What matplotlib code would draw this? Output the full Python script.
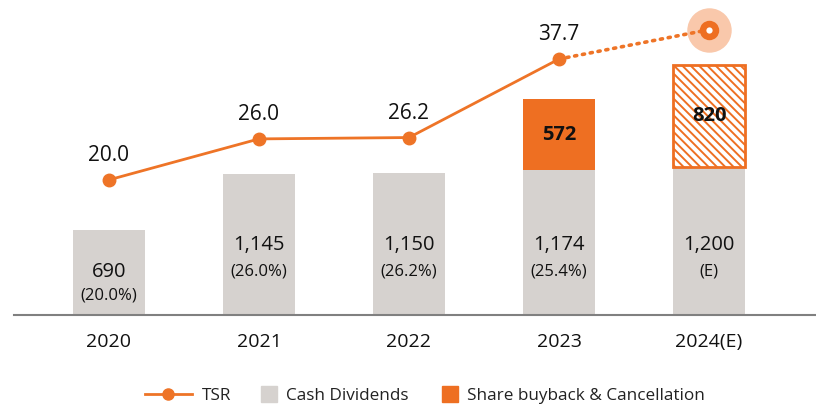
import numpy as np
import matplotlib.pyplot as plt
from matplotlib.lines import Line2D

plt.rcParams['font.family'] = ['Open Sans', 'DejaVu Sans']
plt.rcParams['hatch.linewidth'] = 1.4

years = ['2020', '2021', '2022', '2023', '2024(E)']
dividends = [690, 1145, 1150, 1174, 1200]
payout = ['(20.0%)', '(26.0%)', '(26.2%)', '(25.4%)', '(E)']
buyback = [0, 0, 0, 572, 820]
tsr = [20.0, 26.0, 26.2, 37.7, 42.0]
tsr_labels = ['20.0', '26.0', '26.2', '37.7', '']

ORANGE = '#EE6F22'
LINE = '#EE7427'
GREY = '#D6D2CF'
HALO = '#F9C8AB'
TXT = '#111111'

x = np.arange(len(years))

fig = plt.figure(figsize=(8.16, 4.07), dpi=100)
ax = fig.add_axes([14 / 816, 1 - 315 / 407, 802 / 816, 315 / 407])
ax.set_xlim(-0.633, 4.713)
ax.set_ylim(0, 2550)

w = 0.48
ax.bar(x, dividends, width=w, color=GREY, zorder=1)
# actual buyback in 2023, planned buyback in 2024 drawn hatched
ax.bar(x[3], buyback[3], bottom=dividends[3], width=w, color=ORANGE, zorder=1)
ax.bar(x[4], buyback[4], bottom=dividends[4], width=w, facecolor='white',
       edgecolor=ORANGE, hatch='\\\\\\\\', linewidth=2, zorder=1)

for i in x:
    y_num, y_pct = (348, 160) if i == 0 else (570, 350)
    ax.text(i, y_num, f'{dividends[i]:,}', ha='center', va='center',
            fontsize=14.5, color=TXT)
    ax.text(i, y_pct, payout[i], ha='center', va='center', fontsize=12, color=TXT)
    if buyback[i]:
        ax.text(i, dividends[i] + buyback[i] / 2, f'{buyback[i]}',
                ha='center', va='center', fontsize=14.5, fontweight='bold', color=TXT)

for s in ['top', 'right', 'left']:
    ax.spines[s].set_visible(False)
ax.spines['bottom'].set_color('#808080')
ax.spines['bottom'].set_linewidth(1.5)
ax.set_yticks([])
ax.set_xticks(x)
ax.set_xticklabels(years, fontsize=14, color=TXT)
ax.tick_params(axis='x', length=0, pad=13)

ax2 = ax.twinx()
ax2.set_ylim(0.2, 46.35)
ax2.axis('off')
ax2.plot(x[:4], tsr[:4], color=LINE, linewidth=2, marker='o', markersize=9, zorder=3)
ax2.plot(x[3:], tsr[3:], color=LINE, linewidth=2.6, linestyle=(0, (0.6, 1.6)),
         dash_capstyle='round', zorder=3)
ax2.plot(x[4], tsr[4], marker='o', markersize=32, color=HALO, zorder=2,
         markeredgewidth=0)
ax2.plot(x[4], tsr[4], marker='o', markersize=14, color=ORANGE, zorder=4,
         markeredgewidth=0)
ax2.plot(x[4], tsr[4], marker='o', markersize=4.5, color='white', zorder=5,
         markeredgewidth=0)
for i, lab in enumerate(tsr_labels):
    if lab:
        ax2.text(i, tsr[i] + 2.0, lab, ha='center', va='bottom', fontsize=15, color=TXT)

# legend: one entry per legend so the square handles stay small
legend_y = 1 - 396 / 407
entries = [
    (Line2D([0], [0], color=LINE, linewidth=2, marker='o', markersize=8), 'TSR', 145, 2.75),
    (Line2D([0], [0], color=GREY, linestyle='none', marker='s', markersize=11.5),
     'Cash Dividends', 261, 0.93),
    (Line2D([0], [0], color=ORANGE, linestyle='none', marker='s', markersize=11.5),
     'Share buyback & Cancellation', 442, 0.93),
]
for handle, label, x0, hl in entries:
    fig.legend([handle], [label], loc='center left',
               bbox_to_anchor=(x0 / 816, legend_y), frameon=False, fontsize=12.3,
               handlelength=hl, handletextpad=0.55, borderpad=0, borderaxespad=0,
               labelcolor='#222222')

fig.savefig('out.png', dpi=100)
